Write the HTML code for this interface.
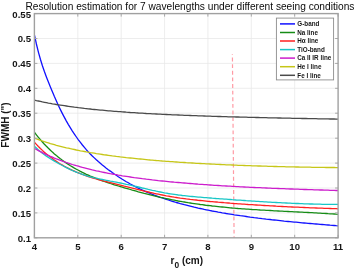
<!DOCTYPE html><html><head><meta charset="utf-8"><style>html,body{margin:0;padding:0;background:#fff}body{width:357px;height:270px;overflow:hidden;position:relative}</style></head><body><svg width="357" height="270" viewBox="0 0 357 270" style="position:absolute;left:0;top:0;will-change:transform">
<path d="M77.8 13.6 V237.8 M121.2 13.6 V237.8 M164.6 13.6 V237.8 M207.9 13.6 V237.8 M251.3 13.6 V237.8 M294.7 13.6 V237.8 M34.4 212.9 H338.1 M34.4 188.0 H338.1 M34.4 163.1 H338.1 M34.4 138.2 H338.1 M34.4 113.2 H338.1 M34.4 88.3 H338.1 M34.4 63.4 H338.1 M34.4 38.5 H338.1" stroke="#e9e9e9" stroke-width="0.8" fill="none"/>
<path d="M232.4 54.2 L234.1 237.8" stroke="#ff9aa4" stroke-width="1.2" stroke-dasharray="3.9 2.72" stroke-dashoffset="3.22" fill="none"/>
<clipPath id="c"><rect x="34.4" y="13.6" width="303.70000000000005" height="224.20000000000002"/></clipPath>
<g clip-path="url(#c)" fill="none" stroke-width="1.3" stroke-linejoin="round">
<path d="M34.4 34.9 L36.4 44.0 L38.4 52.1 L40.4 59.2 L42.4 65.7 L44.4 71.5 L46.4 76.9 L48.4 82.0 L50.4 87.0 L52.4 91.8 L54.4 96.6 L56.4 101.1 L58.4 105.5 L60.4 109.6 L62.4 113.6 L64.4 117.4 L66.4 121.1 L68.4 124.6 L70.4 127.9 L72.4 131.1 L74.4 134.1 L76.4 137.0 L78.4 139.8 L80.4 142.4 L82.4 145.0 L84.4 147.4 L86.3 149.7 L88.3 151.9 L90.3 154.0 L92.3 156.0 L94.3 157.9 L96.3 159.8 L98.3 161.6 L100.3 163.3 L102.3 165.0 L104.3 166.6 L106.3 168.2 L108.3 169.7 L110.3 171.1 L112.3 172.6 L114.3 174.0 L116.3 175.3 L118.3 176.7 L120.3 178.0 L122.3 179.3 L124.3 180.5 L126.3 181.7 L128.3 182.8 L130.3 184.0 L132.3 185.0 L134.3 186.1 L136.3 187.1 L138.3 188.1 L140.3 189.1 L142.3 190.0 L144.3 190.9 L146.3 191.8 L148.3 192.7 L150.3 193.5 L152.3 194.3 L154.3 195.1 L156.3 195.8 L158.3 196.6 L160.3 197.3 L162.3 198.0 L164.3 198.7 L166.3 199.4 L168.3 200.0 L170.3 200.7 L172.3 201.3 L174.3 201.9 L176.3 202.5 L178.3 203.0 L180.3 203.6 L182.3 204.1 L184.3 204.7 L186.3 205.2 L188.2 205.7 L190.2 206.2 L192.2 206.7 L194.2 207.2 L196.2 207.6 L198.2 208.1 L200.2 208.5 L202.2 208.9 L204.2 209.4 L206.2 209.8 L208.2 210.2 L210.2 210.6 L212.2 211.0 L214.2 211.3 L216.2 211.7 L218.2 212.1 L220.2 212.4 L222.2 212.8 L224.2 213.1 L226.2 213.5 L228.2 213.8 L230.2 214.1 L232.2 214.4 L234.2 214.8 L236.2 215.1 L238.2 215.4 L240.2 215.7 L242.2 215.9 L244.2 216.2 L246.2 216.5 L248.2 216.8 L250.2 217.1 L252.2 217.3 L254.2 217.6 L256.2 217.8 L258.2 218.1 L260.2 218.3 L262.2 218.6 L264.2 218.8 L266.2 219.1 L268.2 219.3 L270.2 219.5 L272.2 219.8 L274.2 220.0 L276.2 220.2 L278.2 220.4 L280.2 220.6 L282.2 220.8 L284.2 221.1 L286.2 221.3 L288.1 221.5 L290.1 221.7 L292.1 221.9 L294.1 222.1 L296.1 222.2 L298.1 222.4 L300.1 222.6 L302.1 222.8 L304.1 223.0 L306.1 223.2 L308.1 223.4 L310.1 223.5 L312.1 223.7 L314.1 223.9 L316.1 224.0 L318.1 224.2 L320.1 224.4 L322.1 224.5 L324.1 224.7 L326.1 224.9 L328.1 225.0 L330.1 225.2 L332.1 225.3 L334.1 225.5 L336.1 225.7 L338.1 225.8" stroke="#1010ff"/>
<path d="M34.4 132.2 L36.4 134.8 L38.4 137.3 L40.4 139.7 L42.4 142.0 L44.4 144.2 L46.4 146.3 L48.4 148.3 L50.4 150.2 L52.4 152.1 L54.4 153.9 L56.4 155.6 L58.4 157.2 L60.4 158.8 L62.4 160.3 L64.4 161.7 L66.4 163.1 L68.4 164.4 L70.4 165.7 L72.4 166.9 L74.4 168.1 L76.4 169.2 L78.4 170.3 L80.4 171.4 L82.4 172.4 L84.4 173.3 L86.3 174.3 L88.3 175.2 L90.3 176.1 L92.3 176.9 L94.3 177.7 L96.3 178.5 L98.3 179.3 L100.3 180.0 L102.3 180.8 L104.3 181.5 L106.3 182.2 L108.3 182.8 L110.3 183.5 L112.3 184.1 L114.3 184.8 L116.3 185.4 L118.3 186.0 L120.3 186.6 L122.3 187.2 L124.3 187.8 L126.3 188.4 L128.3 188.9 L130.3 189.5 L132.3 190.1 L134.3 190.6 L136.3 191.2 L138.3 191.8 L140.3 192.3 L142.3 192.8 L144.3 193.4 L146.3 193.9 L148.3 194.4 L150.3 194.9 L152.3 195.4 L154.3 195.9 L156.3 196.3 L158.3 196.8 L160.3 197.3 L162.3 197.7 L164.3 198.2 L166.3 198.6 L168.3 199.0 L170.3 199.4 L172.3 199.8 L174.3 200.2 L176.3 200.6 L178.3 201.0 L180.3 201.3 L182.3 201.7 L184.3 202.0 L186.3 202.3 L188.2 202.7 L190.2 203.0 L192.2 203.3 L194.2 203.6 L196.2 203.9 L198.2 204.2 L200.2 204.5 L202.2 204.7 L204.2 205.0 L206.2 205.3 L208.2 205.5 L210.2 205.7 L212.2 206.0 L214.2 206.2 L216.2 206.4 L218.2 206.6 L220.2 206.8 L222.2 207.0 L224.2 207.2 L226.2 207.4 L228.2 207.6 L230.2 207.8 L232.2 208.0 L234.2 208.1 L236.2 208.3 L238.2 208.5 L240.2 208.6 L242.2 208.8 L244.2 208.9 L246.2 209.1 L248.2 209.2 L250.2 209.3 L252.2 209.5 L254.2 209.6 L256.2 209.7 L258.2 209.8 L260.2 210.0 L262.2 210.1 L264.2 210.2 L266.2 210.3 L268.2 210.4 L270.2 210.5 L272.2 210.6 L274.2 210.8 L276.2 210.9 L278.2 211.0 L280.2 211.1 L282.2 211.2 L284.2 211.3 L286.2 211.4 L288.1 211.5 L290.1 211.6 L292.1 211.7 L294.1 211.8 L296.1 211.9 L298.1 212.0 L300.1 212.1 L302.1 212.2 L304.1 212.3 L306.1 212.4 L308.1 212.5 L310.1 212.6 L312.1 212.7 L314.1 212.8 L316.1 212.9 L318.1 213.1 L320.1 213.2 L322.1 213.3 L324.1 213.4 L326.1 213.5 L328.1 213.7 L330.1 213.8 L332.1 213.9 L334.1 214.0 L336.1 214.2 L338.1 214.3" stroke="#168c16"/>
<path d="M34.4 142.3 L36.4 144.4 L38.4 146.5 L40.4 148.5 L42.4 150.4 L44.4 152.2 L46.4 153.9 L48.4 155.6 L50.4 157.1 L52.4 158.6 L54.4 160.1 L56.4 161.4 L58.4 162.7 L60.4 164.0 L62.4 165.1 L64.4 166.3 L66.4 167.4 L68.4 168.4 L70.4 169.4 L72.4 170.3 L74.4 171.2 L76.4 172.1 L78.4 172.9 L80.4 173.7 L82.4 174.5 L84.4 175.2 L86.3 175.9 L88.3 176.6 L90.3 177.2 L92.3 177.8 L94.3 178.4 L96.3 179.0 L98.3 179.6 L100.3 180.1 L102.3 180.7 L104.3 181.2 L106.3 181.7 L108.3 182.2 L110.3 182.7 L112.3 183.2 L114.3 183.7 L116.3 184.2 L118.3 184.7 L120.3 185.2 L122.3 185.7 L124.3 186.2 L126.3 186.6 L128.3 187.1 L130.3 187.6 L132.3 188.1 L134.3 188.6 L136.3 189.1 L138.3 189.6 L140.3 190.1 L142.3 190.6 L144.3 191.1 L146.3 191.5 L148.3 192.0 L150.3 192.5 L152.3 192.9 L154.3 193.4 L156.3 193.8 L158.3 194.2 L160.3 194.6 L162.3 195.0 L164.3 195.4 L166.3 195.8 L168.3 196.1 L170.3 196.5 L172.3 196.8 L174.3 197.2 L176.3 197.5 L178.3 197.8 L180.3 198.1 L182.3 198.3 L184.3 198.6 L186.3 198.9 L188.2 199.1 L190.2 199.4 L192.2 199.6 L194.2 199.8 L196.2 200.0 L198.2 200.3 L200.2 200.5 L202.2 200.7 L204.2 200.9 L206.2 201.1 L208.2 201.3 L210.2 201.5 L212.2 201.6 L214.2 201.8 L216.2 202.0 L218.2 202.2 L220.2 202.3 L222.2 202.5 L224.2 202.7 L226.2 202.8 L228.2 203.0 L230.2 203.2 L232.2 203.3 L234.2 203.5 L236.2 203.6 L238.2 203.8 L240.2 203.9 L242.2 204.1 L244.2 204.2 L246.2 204.3 L248.2 204.5 L250.2 204.6 L252.2 204.7 L254.2 204.9 L256.2 205.0 L258.2 205.1 L260.2 205.2 L262.2 205.4 L264.2 205.5 L266.2 205.6 L268.2 205.7 L270.2 205.8 L272.2 205.9 L274.2 206.0 L276.2 206.2 L278.2 206.3 L280.2 206.4 L282.2 206.5 L284.2 206.6 L286.2 206.7 L288.1 206.8 L290.1 206.9 L292.1 207.0 L294.1 207.1 L296.1 207.2 L298.1 207.2 L300.1 207.3 L302.1 207.4 L304.1 207.5 L306.1 207.6 L308.1 207.7 L310.1 207.8 L312.1 207.8 L314.1 207.9 L316.1 208.0 L318.1 208.1 L320.1 208.2 L322.1 208.2 L324.1 208.3 L326.1 208.4 L328.1 208.4 L330.1 208.5 L332.1 208.6 L334.1 208.6 L336.1 208.7 L338.1 208.8" stroke="#ff2020"/>
<path d="M34.4 146.3 L36.4 148.1 L38.4 149.9 L40.4 151.6 L42.4 153.2 L44.4 154.7 L46.4 156.1 L48.4 157.4 L50.4 158.7 L52.4 159.9 L54.4 161.1 L56.4 162.3 L58.4 163.4 L60.4 164.5 L62.4 165.5 L64.4 166.6 L66.4 167.6 L68.4 168.6 L70.4 169.6 L72.4 170.5 L74.4 171.4 L76.4 172.2 L78.4 173.0 L80.4 173.7 L82.4 174.4 L84.4 175.1 L86.3 175.7 L88.3 176.3 L90.3 176.8 L92.3 177.3 L94.3 177.8 L96.3 178.2 L98.3 178.7 L100.3 179.1 L102.3 179.5 L104.3 179.9 L106.3 180.3 L108.3 180.7 L110.3 181.1 L112.3 181.4 L114.3 181.8 L116.3 182.2 L118.3 182.6 L120.3 183.0 L122.3 183.4 L124.3 183.8 L126.3 184.3 L128.3 184.7 L130.3 185.2 L132.3 185.6 L134.3 186.1 L136.3 186.5 L138.3 187.0 L140.3 187.5 L142.3 188.0 L144.3 188.4 L146.3 188.9 L148.3 189.4 L150.3 189.8 L152.3 190.3 L154.3 190.7 L156.3 191.2 L158.3 191.6 L160.3 192.0 L162.3 192.4 L164.3 192.8 L166.3 193.1 L168.3 193.5 L170.3 193.8 L172.3 194.1 L174.3 194.4 L176.3 194.7 L178.3 195.0 L180.3 195.2 L182.3 195.5 L184.3 195.7 L186.3 195.9 L188.2 196.1 L190.2 196.3 L192.2 196.5 L194.2 196.7 L196.2 196.9 L198.2 197.1 L200.2 197.2 L202.2 197.4 L204.2 197.6 L206.2 197.7 L208.2 197.9 L210.2 198.0 L212.2 198.2 L214.2 198.3 L216.2 198.5 L218.2 198.6 L220.2 198.8 L222.2 198.9 L224.2 199.1 L226.2 199.2 L228.2 199.4 L230.2 199.5 L232.2 199.7 L234.2 199.8 L236.2 200.0 L238.2 200.1 L240.2 200.2 L242.2 200.4 L244.2 200.5 L246.2 200.7 L248.2 200.8 L250.2 200.9 L252.2 201.1 L254.2 201.2 L256.2 201.3 L258.2 201.4 L260.2 201.6 L262.2 201.7 L264.2 201.8 L266.2 201.9 L268.2 202.1 L270.2 202.2 L272.2 202.3 L274.2 202.4 L276.2 202.5 L278.2 202.6 L280.2 202.7 L282.2 202.8 L284.2 202.9 L286.2 203.0 L288.1 203.1 L290.1 203.2 L292.1 203.3 L294.1 203.4 L296.1 203.5 L298.1 203.5 L300.1 203.6 L302.1 203.7 L304.1 203.8 L306.1 203.8 L308.1 203.9 L310.1 204.0 L312.1 204.0 L314.1 204.1 L316.1 204.1 L318.1 204.2 L320.1 204.2 L322.1 204.3 L324.1 204.3 L326.1 204.3 L328.1 204.4 L330.1 204.4 L332.1 204.4 L334.1 204.4 L336.1 204.4 L338.1 204.4" stroke="#18c6c6"/>
<path d="M34.4 148.4 L36.4 149.5 L38.4 150.6 L40.4 151.7 L42.4 152.7 L44.4 153.6 L46.4 154.6 L48.4 155.5 L50.4 156.4 L52.4 157.2 L54.4 158.1 L56.4 158.9 L58.4 159.6 L60.4 160.4 L62.4 161.1 L64.4 161.8 L66.4 162.5 L68.4 163.2 L70.4 163.8 L72.4 164.5 L74.4 165.1 L76.4 165.7 L78.4 166.2 L80.4 166.8 L82.4 167.4 L84.4 167.9 L86.3 168.4 L88.3 168.9 L90.3 169.4 L92.3 169.9 L94.3 170.3 L96.3 170.8 L98.3 171.2 L100.3 171.7 L102.3 172.1 L104.3 172.5 L106.3 172.9 L108.3 173.3 L110.3 173.7 L112.3 174.0 L114.3 174.4 L116.3 174.7 L118.3 175.1 L120.3 175.4 L122.3 175.8 L124.3 176.1 L126.3 176.4 L128.3 176.7 L130.3 177.0 L132.3 177.3 L134.3 177.6 L136.3 177.8 L138.3 178.1 L140.3 178.4 L142.3 178.7 L144.3 178.9 L146.3 179.2 L148.3 179.4 L150.3 179.6 L152.3 179.9 L154.3 180.1 L156.3 180.3 L158.3 180.6 L160.3 180.8 L162.3 181.0 L164.3 181.2 L166.3 181.4 L168.3 181.6 L170.3 181.8 L172.3 182.0 L174.3 182.2 L176.3 182.3 L178.3 182.5 L180.3 182.7 L182.3 182.9 L184.3 183.0 L186.3 183.2 L188.2 183.4 L190.2 183.5 L192.2 183.7 L194.2 183.9 L196.2 184.0 L198.2 184.2 L200.2 184.3 L202.2 184.4 L204.2 184.6 L206.2 184.7 L208.2 184.9 L210.2 185.0 L212.2 185.1 L214.2 185.3 L216.2 185.4 L218.2 185.5 L220.2 185.6 L222.2 185.8 L224.2 185.9 L226.2 186.0 L228.2 186.1 L230.2 186.2 L232.2 186.3 L234.2 186.4 L236.2 186.6 L238.2 186.7 L240.2 186.8 L242.2 186.9 L244.2 187.0 L246.2 187.1 L248.2 187.2 L250.2 187.3 L252.2 187.4 L254.2 187.5 L256.2 187.6 L258.2 187.6 L260.2 187.7 L262.2 187.8 L264.2 187.9 L266.2 188.0 L268.2 188.1 L270.2 188.2 L272.2 188.3 L274.2 188.3 L276.2 188.4 L278.2 188.5 L280.2 188.6 L282.2 188.7 L284.2 188.7 L286.2 188.8 L288.1 188.9 L290.1 189.0 L292.1 189.0 L294.1 189.1 L296.1 189.2 L298.1 189.2 L300.1 189.3 L302.1 189.4 L304.1 189.5 L306.1 189.5 L308.1 189.6 L310.1 189.7 L312.1 189.7 L314.1 189.8 L316.1 189.8 L318.1 189.9 L320.1 190.0 L322.1 190.0 L324.1 190.1 L326.1 190.2 L328.1 190.2 L330.1 190.3 L332.1 190.3 L334.1 190.4 L336.1 190.5 L338.1 190.5" stroke="#cc1ccc"/>
<path d="M34.4 138.2 L36.4 138.9 L38.4 139.6 L40.4 140.3 L42.4 141.0 L44.4 141.7 L46.4 142.3 L48.4 142.9 L50.4 143.6 L52.4 144.1 L54.4 144.7 L56.4 145.3 L58.4 145.8 L60.4 146.3 L62.4 146.8 L64.4 147.3 L66.4 147.8 L68.4 148.2 L70.4 148.7 L72.4 149.1 L74.4 149.5 L76.4 150.0 L78.4 150.4 L80.4 150.8 L82.4 151.1 L84.4 151.5 L86.3 151.9 L88.3 152.2 L90.3 152.6 L92.3 152.9 L94.3 153.2 L96.3 153.6 L98.3 153.9 L100.3 154.2 L102.3 154.5 L104.3 154.8 L106.3 155.0 L108.3 155.3 L110.3 155.6 L112.3 155.9 L114.3 156.1 L116.3 156.4 L118.3 156.6 L120.3 156.9 L122.3 157.1 L124.3 157.3 L126.3 157.6 L128.3 157.8 L130.3 158.0 L132.3 158.2 L134.3 158.4 L136.3 158.6 L138.3 158.8 L140.3 159.0 L142.3 159.2 L144.3 159.4 L146.3 159.6 L148.3 159.8 L150.3 160.0 L152.3 160.1 L154.3 160.3 L156.3 160.5 L158.3 160.6 L160.3 160.8 L162.3 161.0 L164.3 161.1 L166.3 161.3 L168.3 161.4 L170.3 161.6 L172.3 161.7 L174.3 161.9 L176.3 162.0 L178.3 162.1 L180.3 162.3 L182.3 162.4 L184.3 162.5 L186.3 162.7 L188.2 162.8 L190.2 162.9 L192.2 163.0 L194.2 163.1 L196.2 163.3 L198.2 163.4 L200.2 163.5 L202.2 163.6 L204.2 163.7 L206.2 163.8 L208.2 163.9 L210.2 164.0 L212.2 164.1 L214.2 164.2 L216.2 164.3 L218.2 164.4 L220.2 164.5 L222.2 164.6 L224.2 164.7 L226.2 164.8 L228.2 164.9 L230.2 164.9 L232.2 165.0 L234.2 165.1 L236.2 165.2 L238.2 165.3 L240.2 165.3 L242.2 165.4 L244.2 165.5 L246.2 165.6 L248.2 165.6 L250.2 165.7 L252.2 165.8 L254.2 165.8 L256.2 165.9 L258.2 166.0 L260.2 166.0 L262.2 166.1 L264.2 166.2 L266.2 166.2 L268.2 166.3 L270.2 166.3 L272.2 166.4 L274.2 166.5 L276.2 166.5 L278.2 166.6 L280.2 166.6 L282.2 166.7 L284.2 166.7 L286.2 166.8 L288.1 166.8 L290.1 166.8 L292.1 166.9 L294.1 166.9 L296.1 167.0 L298.1 167.0 L300.1 167.1 L302.1 167.1 L304.1 167.1 L306.1 167.2 L308.1 167.2 L310.1 167.2 L312.1 167.3 L314.1 167.3 L316.1 167.3 L318.1 167.4 L320.1 167.4 L322.1 167.4 L324.1 167.4 L326.1 167.5 L328.1 167.5 L330.1 167.5 L332.1 167.5 L334.1 167.5 L336.1 167.6 L338.1 167.6" stroke="#c6c618"/>
<path d="M34.4 100.1 L36.4 100.6 L38.4 101.0 L40.4 101.4 L42.4 101.9 L44.4 102.3 L46.4 102.7 L48.4 103.1 L50.4 103.4 L52.4 103.8 L54.4 104.1 L56.4 104.5 L58.4 104.8 L60.4 105.1 L62.4 105.4 L64.4 105.7 L66.4 106.0 L68.4 106.3 L70.4 106.6 L72.4 106.9 L74.4 107.2 L76.4 107.4 L78.4 107.7 L80.4 107.9 L82.4 108.1 L84.4 108.4 L86.3 108.6 L88.3 108.8 L90.3 109.0 L92.3 109.3 L94.3 109.5 L96.3 109.7 L98.3 109.9 L100.3 110.1 L102.3 110.2 L104.3 110.4 L106.3 110.6 L108.3 110.8 L110.3 110.9 L112.3 111.1 L114.3 111.3 L116.3 111.4 L118.3 111.6 L120.3 111.7 L122.3 111.9 L124.3 112.0 L126.3 112.2 L128.3 112.3 L130.3 112.5 L132.3 112.6 L134.3 112.7 L136.3 112.8 L138.3 113.0 L140.3 113.1 L142.3 113.2 L144.3 113.3 L146.3 113.5 L148.3 113.6 L150.3 113.7 L152.3 113.8 L154.3 113.9 L156.3 114.0 L158.3 114.1 L160.3 114.2 L162.3 114.3 L164.3 114.4 L166.3 114.5 L168.3 114.6 L170.3 114.7 L172.3 114.8 L174.3 114.9 L176.3 114.9 L178.3 115.0 L180.3 115.1 L182.3 115.2 L184.3 115.3 L186.3 115.4 L188.2 115.4 L190.2 115.5 L192.2 115.6 L194.2 115.7 L196.2 115.7 L198.2 115.8 L200.2 115.9 L202.2 115.9 L204.2 116.0 L206.2 116.1 L208.2 116.1 L210.2 116.2 L212.2 116.3 L214.2 116.3 L216.2 116.4 L218.2 116.5 L220.2 116.5 L222.2 116.6 L224.2 116.6 L226.2 116.7 L228.2 116.8 L230.2 116.8 L232.2 116.9 L234.2 116.9 L236.2 117.0 L238.2 117.0 L240.2 117.1 L242.2 117.1 L244.2 117.2 L246.2 117.2 L248.2 117.3 L250.2 117.3 L252.2 117.4 L254.2 117.4 L256.2 117.5 L258.2 117.5 L260.2 117.6 L262.2 117.6 L264.2 117.7 L266.2 117.7 L268.2 117.8 L270.2 117.8 L272.2 117.8 L274.2 117.9 L276.2 117.9 L278.2 118.0 L280.2 118.0 L282.2 118.1 L284.2 118.1 L286.2 118.1 L288.1 118.2 L290.1 118.2 L292.1 118.3 L294.1 118.3 L296.1 118.3 L298.1 118.4 L300.1 118.4 L302.1 118.5 L304.1 118.5 L306.1 118.5 L308.1 118.6 L310.1 118.6 L312.1 118.6 L314.1 118.7 L316.1 118.7 L318.1 118.8 L320.1 118.8 L322.1 118.8 L324.1 118.9 L326.1 118.9 L328.1 118.9 L330.1 119.0 L332.1 119.0 L334.1 119.0 L336.1 119.1 L338.1 119.1" stroke="#4a4a4a"/>
</g>
<path d="M34.4 237.8 v-3 M34.4 13.6 v3 M77.8 237.8 v-3 M77.8 13.6 v3 M121.2 237.8 v-3 M121.2 13.6 v3 M164.6 237.8 v-3 M164.6 13.6 v3 M207.9 237.8 v-3 M207.9 13.6 v3 M251.3 237.8 v-3 M251.3 13.6 v3 M294.7 237.8 v-3 M294.7 13.6 v3 M338.1 237.8 v-3 M338.1 13.6 v3 M34.4 237.8 h3 M338.1 237.8 h-3 M34.4 212.9 h3 M338.1 212.9 h-3 M34.4 188.0 h3 M338.1 188.0 h-3 M34.4 163.1 h3 M338.1 163.1 h-3 M34.4 138.2 h3 M338.1 138.2 h-3 M34.4 113.2 h3 M338.1 113.2 h-3 M34.4 88.3 h3 M338.1 88.3 h-3 M34.4 63.4 h3 M338.1 63.4 h-3 M34.4 38.5 h3 M338.1 38.5 h-3 M34.4 13.6 h3 M338.1 13.6 h-3" stroke="#a8a8a8" stroke-width="1" fill="none"/>
<rect x="34.4" y="13.6" width="303.70000000000005" height="224.20000000000002" fill="none" stroke="#a0a0a0" stroke-width="1.4"/>
<g font-family="Liberation Sans, sans-serif" font-weight="bold" font-size="9.6" fill="#161616">
<text x="34.4" y="250.3" text-anchor="middle">4</text>
<text x="77.8" y="250.3" text-anchor="middle">5</text>
<text x="121.2" y="250.3" text-anchor="middle">6</text>
<text x="164.6" y="250.3" text-anchor="middle">7</text>
<text x="207.9" y="250.3" text-anchor="middle">8</text>
<text x="251.3" y="250.3" text-anchor="middle">9</text>
<text x="294.7" y="250.3" text-anchor="middle">10</text>
<text x="338.1" y="250.3" text-anchor="middle">11</text>
<text x="31" y="241.7" text-anchor="end">0.1</text>
<text x="31" y="216.8" text-anchor="end">0.15</text>
<text x="31" y="191.9" text-anchor="end">0.2</text>
<text x="31" y="167.0" text-anchor="end">0.25</text>
<text x="31" y="142.1" text-anchor="end">0.3</text>
<text x="31" y="117.1" text-anchor="end">0.35</text>
<text x="31" y="92.2" text-anchor="end">0.4</text>
<text x="31" y="67.3" text-anchor="end">0.45</text>
<text x="31" y="42.4" text-anchor="end">0.5</text>
<text x="31" y="17.5" text-anchor="end">0.55</text>
</g>
<text id="title" x="189.9" y="9.5" text-anchor="middle" font-family="Liberation Sans, sans-serif" font-size="10.16" fill="#0a0a0a">Resolution estimation for 7 wavelengths under different seeing conditions</text>
<text id="yl" transform="translate(9.2 125) rotate(-90)" text-anchor="middle" font-family="Liberation Sans, sans-serif" font-weight="bold" font-size="10" fill="#161616">FWMH (")</text>
<text id="xl" x="170.6" y="264" font-family="Liberation Sans, sans-serif" font-weight="bold" font-size="10" fill="#161616">r<tspan font-size="8.4" dy="3.8">0</tspan><tspan dy="-3.8"> (cm)</tspan></text>
<rect x="276.4" y="18.1" width="57.200000000000045" height="61.800000000000004" fill="#fff" stroke="#8c8c8c" stroke-width="0.9"/>
<g font-family="Liberation Sans, sans-serif" font-weight="bold" font-size="6.3" fill="#161616">
<path d="M280 23.9 H295" stroke="#1010ff" stroke-width="1.5"/>
<text x="297.3" y="26.2">G-band</text>
<path d="M280 32.5 H295" stroke="#168c16" stroke-width="1.5"/>
<text x="297.3" y="34.8">Na line</text>
<path d="M280 41.0 H295" stroke="#ff2020" stroke-width="1.5"/>
<text x="297.3" y="43.3">Hα line</text>
<path d="M280 49.6 H295" stroke="#18c6c6" stroke-width="1.5"/>
<text x="297.3" y="51.9">TiO-band</text>
<path d="M280 58.1 H295" stroke="#cc1ccc" stroke-width="1.5"/>
<text x="297.3" y="60.4">Ca II IR line</text>
<path d="M280 66.7 H295" stroke="#c6c618" stroke-width="1.5"/>
<text x="297.3" y="69.0">He I line</text>
<path d="M280 75.3 H295" stroke="#4a4a4a" stroke-width="1.5"/>
<text x="297.3" y="77.6">Fe I line</text>
</g>
</svg></body></html>
